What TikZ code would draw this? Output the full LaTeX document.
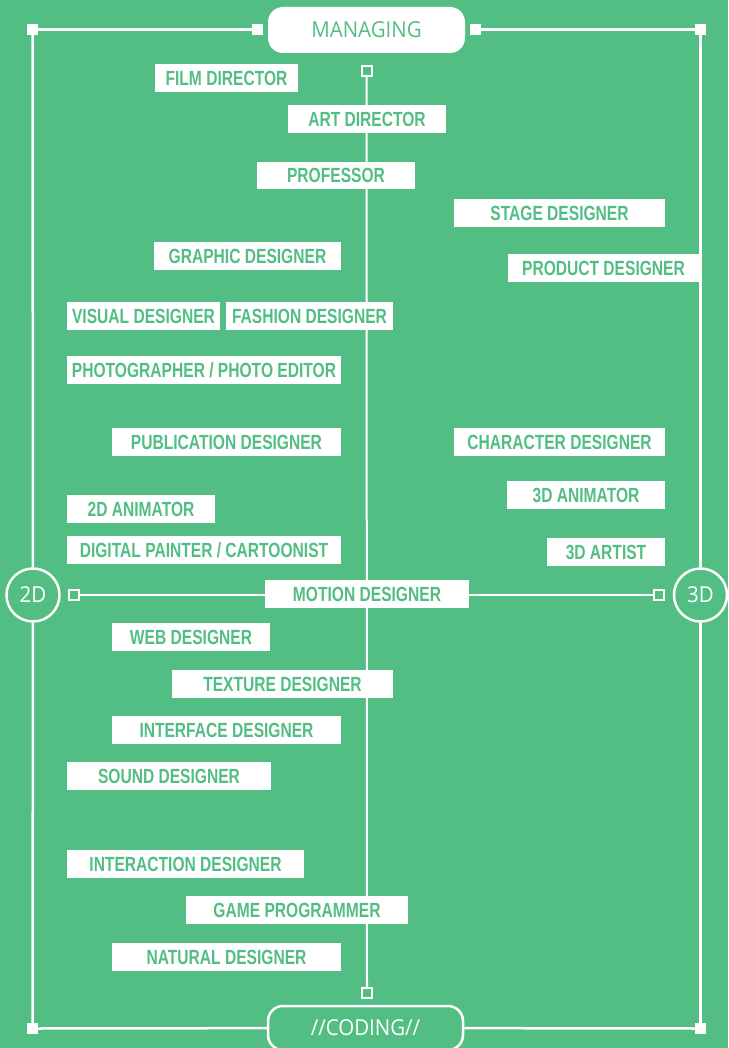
\documentclass[tikz,border=0pt]{standalone}
\usepackage{fontspec}
\newfontfamily\labfont[FakeStretch=0.76]{Liberation Sans}
\newfontfamily\titlefont[FakeStretch=0.93]{Open Sans}
\definecolor{grn}{RGB}{82,190,132}
\tikzset{
  lab/.style={fill=white, text=grn, inner sep=0pt, anchor=center,
    font=\labfont\bfseries\fontsize{20.5}{21}\selectfont},
  fsq/.style={fill=white, minimum size=11pt, inner sep=0pt},
  hsq/.style={draw=white, line width=2pt, fill=grn, minimum size=10pt, inner sep=0pt},
  ln/.style={white, line width=2.5pt},
  ttl/.style={font=\titlefont\fontsize{22}{24}\selectfont, inner sep=0pt},
  endbox/.style={rounded corners=15pt, inner sep=0pt, ttl},
  axis/.style={circle, draw=white, line width=2.5pt, fill=grn, minimum size=53pt, inner sep=0pt, text=white, ttl}
}
\newcommand\lab[6]{\node[lab, minimum width={#4pt-#2pt}, minimum height={#5pt-#3pt}] (#1) at ({(#2+#4)/2},{(#3+#5)/2}) {#6};}
\begin{document}
\begin{tikzpicture}[x=1pt,y=-1pt]
\useasboundingbox (0,0) rectangle (728,1048);
\clip (0,0) rectangle (728,1048);
\fill[grn] (0,0) rectangle (728,1048);
% frame nodes
\node[fsq] (tl) at (32.5,29.5) {};
\node[fsq] (tlm) at (257.5,29.5) {};
\node[fsq] (trm) at (475.5,29.5) {};
\node[fsq] (tr) at (700.5,29.5) {};
\node[fsq] (bl) at (32.5,1028.5) {};
\node[fsq] (br) at (700.5,1028.5) {};
\node[endbox, fill=white, text=grn, minimum width=197pt, minimum height=46pt] (managing) at (366.5,30) {MANAGING};
\node[endbox, draw=white, line width=2.5pt, fill=grn, text=white, minimum width=195pt, minimum height=44pt] (coding) at (365.5,1028) {//CODING//};
\node[axis] (c2d) at (33,595) {2D};
\node[axis] (c3d) at (700.5,595) {3D};
% frame lines
\draw[ln] (tl) -- (tlm);
\draw[ln] (trm) -- (tr);
\draw[ln] (tl) -- (c2d);
\draw[ln] (c2d) -- (bl);
\draw[ln] (tr) -- (c3d);
\draw[ln] (c3d) -- (br);
\draw[ln] (bl) -- (coding);
\draw[ln] (coding) -- (br);
% axes
\coordinate (vtop) at (366.5,71);
\coordinate (vbot) at (367,993);
\coordinate (hl) at (74,595);
\coordinate (hr) at (658.5,595);
\draw[white, line width=2pt] (vtop) -- (vbot);
\draw[white, line width=2pt] (hl) -- (hr);
\node[hsq] (sqt) at (vtop) {};
\node[hsq] (sqb) at (vbot) {};
\node[hsq] (sql) at (hl) {};
\node[hsq] (sqr) at (hr) {};
% labels
\lab{film}{155}{64}{298}{92}{FILM DIRECTOR}
\lab{art}{288}{105}{446}{133}{ART DIRECTOR}
\lab{prof}{257}{162}{415}{189}{PROFESSOR}
\lab{stage}{454}{199}{665}{227}{STAGE DESIGNER}
\lab{graphic}{154}{242}{341}{270}{GRAPHIC DESIGNER}
\lab{product}{508}{254}{699}{282}{PRODUCT DESIGNER}
\lab{visual}{67}{302}{220}{330}{VISUAL DESIGNER}
\lab{fashion}{226}{302}{393}{330}{FASHION DESIGNER}
\lab{photo}{67}{356}{341}{384}{PHOTOGRAPHER / PHOTO EDITOR}
\lab{publication}{112}{428}{341}{456}{PUBLICATION DESIGNER}
\lab{character}{454}{428}{665}{456}{CHARACTER DESIGNER}
\lab{anim3d}{507}{481}{665}{509}{3D ANIMATOR}
\lab{anim2d}{67}{495}{215}{523}{2D ANIMATOR}
\lab{digital}{67}{536}{341}{564}{DIGITAL PAINTER / CARTOONIST}
\lab{artist3d}{547}{538}{665}{566}{3D ARTIST}
\lab{motion}{265}{580}{469}{608}{MOTION DESIGNER}
\lab{web}{112}{623}{270}{651}{WEB DESIGNER}
\lab{texture}{172}{670}{393}{698}{TEXTURE DESIGNER}
\lab{interface}{112}{716}{341}{744}{INTERFACE DESIGNER}
\lab{sound}{67}{762}{271}{790}{SOUND DESIGNER}
\lab{interaction}{67}{850}{304}{878}{INTERACTION DESIGNER}
\lab{game}{186}{896}{408}{924}{GAME PROGRAMMER}
\lab{natural}{112}{943}{341}{971}{NATURAL DESIGNER}
\end{tikzpicture}
\end{document}
